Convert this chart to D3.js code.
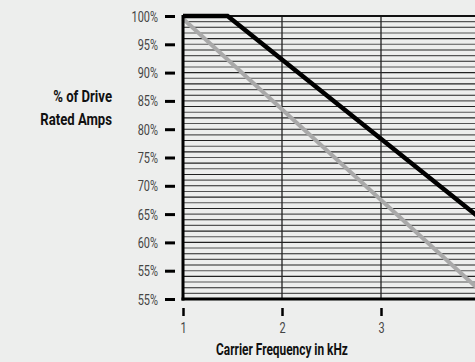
<!DOCTYPE html>
<html><head><meta charset="utf-8">
<script src="https://cdn.jsdelivr.net/npm/d3@7"></script>
<style>
html,body{margin:0;padding:0;background:#edeeed;}
svg{display:block;}
text{font-family:"Roboto","Liberation Sans",sans-serif;}
</style></head>
<body>
<svg id="c" width="475" height="362"></svg>
<script>
const yTickValues = [100,95,90,85,80,75,70,65,60,55,50];
const yTickLabels = ["100%","95%","90%","85%","80%","75%","70%","65%","60%","55%","55%"];
const xTickValues = [1,2,3];
const xTickLabels = ["1","2","3"];
const seriesBlackX = [1,1.45,4];
const seriesBlackY = [100,100,64.3];
const seriesGrayX = [1,4];
const seriesGrayY = [99.5,51.5];

const svg = d3.select("#c");
const x = d3.scaleLinear().domain([1,4]).range([183,480]);
const y = d3.scaleLinear().domain([50,100]).range([299,16]);

function condense(sel, f){
  sel.each(function(){
    const len = this.getComputedTextLength();
    d3.select(this).attr("textLength", len*f).attr("lengthAdjust","spacingAndGlyphs");
  });
}

const plot = svg.append("g");
plot.selectAll("line.h").data(d3.range(51,100)).enter().append("line")
  .attr("x1",x(1)).attr("x2",475).attr("y1",d=>y(d)).attr("y2",d=>y(d))
  .attr("stroke",(d,i)=> i%2? "#222":"#555").attr("stroke-width",1.1);
plot.selectAll("line.v").data([2,3,4]).enter().append("line")
  .attr("x1",d=>x(d)).attr("x2",d=>x(d)).attr("y1",y(100)).attr("y2",y(50))
  .attr("stroke","#222").attr("stroke-width",1.3);
plot.append("line").attr("x1",x(1)).attr("x2",475).attr("y1",y(100)).attr("y2",y(100))
  .attr("stroke","#111").attr("stroke-width",2);

const line = d3.line().x(d=>x(d[0])).y(d=>y(d[1]));
plot.append("path").datum(seriesGrayX.map((v,i)=>[v,seriesGrayY[i]]))
  .attr("d",line).attr("fill","none").attr("stroke","#a9a9a9").attr("stroke-width",4);
plot.append("path").datum(seriesBlackX.map((v,i)=>[v,seriesBlackY[i]]))
  .attr("d",line).attr("fill","none").attr("stroke","#000").attr("stroke-width",4.5);

svg.append("line").attr("x1",x(1)).attr("x2",x(1)).attr("y1",y(100)-1).attr("y2",y(50)+1.5)
  .attr("stroke","#000").attr("stroke-width",3);
svg.append("line").attr("x1",x(1)-1.5).attr("x2",475).attr("y1",y(50)).attr("y2",y(50))
  .attr("stroke","#000").attr("stroke-width",3);

const yAxis = d3.axisLeft(y).tickValues(yTickValues).tickFormat((d,i)=>yTickLabels[i]).tickSize(0).tickPadding(0);
const ya = svg.append("g").attr("transform","translate(158,0)").call(yAxis);
ya.select(".domain").remove();
ya.selectAll(".tick text").attr("x",0).attr("dy","0.36em").attr("font-size",14).attr("fill","#444")
  .style("font-family",'"Roboto",sans-serif').call(condense,0.78);
ya.selectAll(".tick").append("line").attr("x1",7).attr("x2",17).attr("y1",0).attr("y2",0)
  .attr("stroke","#000").attr("stroke-width",3);

const xAxis = d3.axisBottom(x).tickValues(xTickValues).tickFormat((d,i)=>xTickLabels[i]).tickSize(0).tickPadding(0);
const xa = svg.append("g").attr("transform","translate(0,308)").call(xAxis);
xa.select(".domain").remove();
xa.selectAll(".tick text").attr("y",25).attr("dy",0).attr("font-size",14).attr("fill","#444")
  .style("font-family",'"Roboto",sans-serif').call(condense,0.78);
xa.selectAll(".tick").append("line").attr("x1",0).attr("x2",0).attr("y1",0).attr("y2",8)
  .attr("stroke","#000").attr("stroke-width",2.5);

svg.append("text").attr("x",112).attr("y",102).attr("text-anchor","end")
  .attr("font-size",16).attr("font-weight","bold").attr("fill","#111").text("% of Drive").call(condense,0.82);
svg.append("text").attr("x",112).attr("y",125).attr("text-anchor","end")
  .attr("font-size",16).attr("font-weight","bold").attr("fill","#111").text("Rated Amps").call(condense,0.82);
svg.append("text").attr("x",282).attr("y",355).attr("text-anchor","middle")
  .attr("font-size",16.5).attr("font-weight","bold").attr("fill","#111").text("Carrier Frequency in kHz").call(condense,0.72);
</script>
</body></html>
